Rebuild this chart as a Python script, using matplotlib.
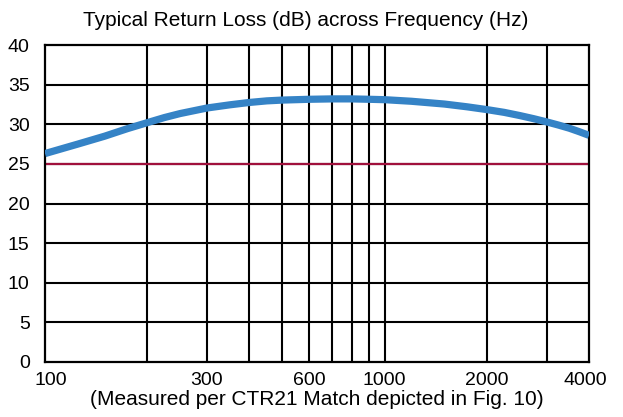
import matplotlib
matplotlib.use("Agg")
import matplotlib.pyplot as plt
import matplotlib.transforms as mtransforms
from matplotlib.ticker import FixedLocator, NullFormatter, NullLocator

plt.rcParams['font.family'] = ['Liberation Sans', 'DejaVu Sans']

freq = [100, 125, 150, 175, 200, 225, 250, 300, 350, 400, 450, 500, 600, 700,
        800, 900, 1000, 1200, 1500, 1750, 2000, 2250, 2500, 2750, 3000, 3250,
        3500, 3750, 4000]
return_loss = [26.3, 27.5, 28.5, 29.45, 30.2, 30.85, 31.35, 32.05, 32.45, 32.75,
               32.95, 33.05, 33.15, 33.2, 33.2, 33.15, 33.1, 32.9, 32.55, 32.2,
               31.85, 31.5, 31.1, 30.7, 30.3, 29.9, 29.5, 29.05, 28.6]
limit_db = 25

x_grid = [200, 300, 400, 500, 600, 700, 800, 900, 1000, 2000, 3000]
x_tick_vals = [100, 300, 600, 1000, 2000, 4000]
x_tick_labels = ['100', '300', '600', '1000', '2000', '4000']
y_ticks = [0, 5, 10, 15, 20, 25, 30, 35, 40]

title = 'Typical Return Loss (dB) across Frequency (Hz)'
xlabel = '(Measured per CTR21 Match depicted in Fig. 10)'

fig = plt.figure(figsize=(6.23, 4.17), dpi=100)
ax = fig.add_axes([45/623, 1-362/417, (589-45)/623, (362-45)/417])

ax.set_xscale('log')
ax.set_xlim(100, 4000)
ax.set_ylim(0, 40)

for xv in x_grid:
    ax.axvline(xv, color='black', lw=1.5, zorder=1)
for yv in y_ticks[1:-1]:
    ax.axhline(yv, color='black', lw=1.5, zorder=1)

ax.axhline(limit_db, color='#a0103c', lw=1.6, zorder=2)
ax.plot(freq, return_loss, color='#3583c6', lw=5.2, solid_capstyle='butt', zorder=3)

for s in ax.spines.values():
    s.set_color('black')
    s.set_linewidth(1.6)

ax.xaxis.set_major_locator(FixedLocator(x_tick_vals))
ax.xaxis.set_minor_locator(NullLocator())
ax.set_xticklabels(x_tick_labels)
ax.xaxis.set_minor_formatter(NullFormatter())
ax.set_yticks(y_ticks)
ax.tick_params(axis='both', length=0, labelsize=14)
ax.tick_params(axis='y', pad=11)
ax.tick_params(axis='x', pad=7)

labels = ax.get_xticklabels()
labels[0].set_transform(labels[0].get_transform() +
                        mtransforms.ScaledTranslation(6/100, 0, fig.dpi_scale_trans))
labels[-1].set_transform(labels[-1].get_transform() +
                         mtransforms.ScaledTranslation(-4/100, 0, fig.dpi_scale_trans))

ax.set_xlabel(xlabel, fontsize=15, labelpad=1)
fig.text(0.49, 1-21/417, title, ha='center', va='center', fontsize=15)

fig.savefig('out.png', dpi=100)
